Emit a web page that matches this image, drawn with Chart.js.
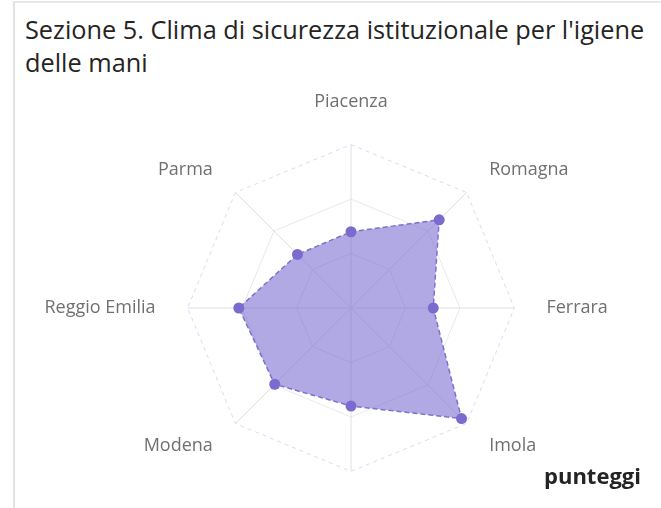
<!DOCTYPE html>
<html>
<head>
<meta charset="utf-8">
<script src="https://cdn.jsdelivr.net/npm/chart.js@4/dist/chart.umd.min.js"></script>
<style>
  html, body { margin: 0; padding: 0; background: #fff; width: 661px; height: 508px; overflow: hidden; }
  #card { position: absolute; left: 13px; top: 1px; width: 660px; height: 520px;
          border-left: 2px solid #e2e2e2; border-top: 2px solid #e8e8e8; box-sizing: border-box; }
  #title { position: absolute; left: 25px; top: 13px; width: 634px;
           font-family: "Open Sans", sans-serif; font-size: 25.3px; line-height: 33px; color: #252423; }
  #wrap { position: absolute; left: 10px; top: 92px; width: 646px; height: 434px; }
  #series { position: absolute; left: 544px; top: 461px;
            font-family: "Open Sans", sans-serif; font-weight: bold; font-size: 22px; line-height: 28px; color: #252423; }
</style>
</head>
<body>
<div id="card"></div>
<div id="title">Sezione 5. Clima di sicurezza istituzionale per l'igiene delle mani</div>
<div id="wrap"><canvas id="c"></canvas></div>
<div id="series"></div>
<script>
const categories = ['Piacenza', 'Romagna', 'Ferrara', 'Imola', '', 'Modena', 'Reggio Emilia', 'Parma'];
const punteggi = [1.40, 2.29, 1.51, 2.87, 1.80, 1.98, 2.06, 1.39];
const seriesName = 'punteggi';
const scaleMin = 0, scaleMax = 3, scaleStep = 1;

document.getElementById('series').textContent = seriesName;

new Chart(document.getElementById('c'), {
  type: 'radar',
  data: {
    labels: categories,
    datasets: [{
      label: seriesName,
      data: punteggi,
      backgroundColor: 'rgba(118,104,205,0.57)',
      borderColor: '#7f70d0',
      borderWidth: 1.5,
      borderDash: [5, 3],
      pointRadius: 5.5,
      pointHoverRadius: 5.5,
      pointBackgroundColor: '#7b6bcf',
      pointBorderWidth: 0,
      fill: true
    }]
  },
  options: {
    responsive: true,
    maintainAspectRatio: false,
    animation: false,
    layout: { padding: 0 },
    plugins: {
      legend: { display: false },
      tooltip: { enabled: false }
    },
    scales: {
      r: {
        min: scaleMin, max: scaleMax,
        ticks: { display: false, stepSize: scaleStep },
        angleLines: { color: '#e0e0e0', lineWidth: 1 },
        grid: {
          color: (c) => c.index === 3 ? 'rgba(200,208,242,0.75)' : '#e8e8ee',
          lineWidth: 1
        },
        border: { dash: (c) => c.index === 3 ? [4, 4] : [] },
        pointLabels: {
          color: '#707070', padding: 32,
          font: (c) => ({
            family: 'Open Sans', size: 18,
            lineHeight: (c.index === 0 || c.index === 4) ? 1.2 : 0.01
          })
        }
      }
    }
  }
});
</script>
</body>
</html>
